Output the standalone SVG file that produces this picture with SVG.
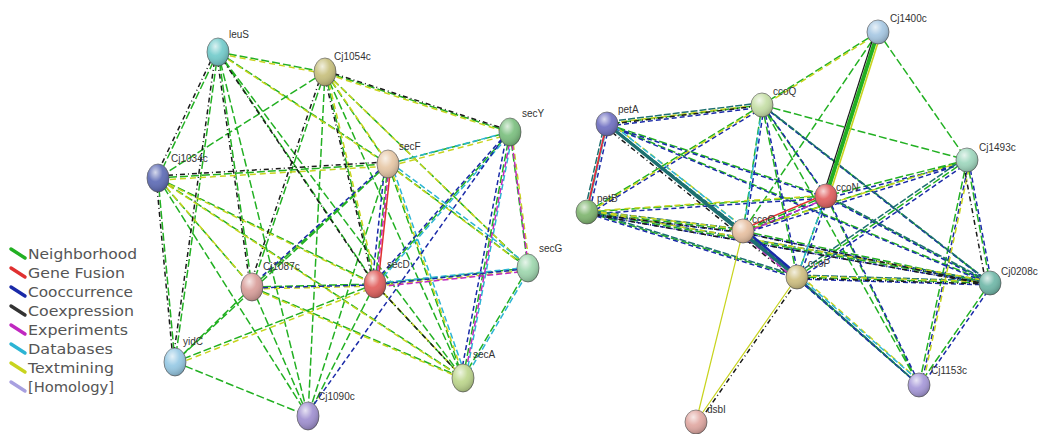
<svg xmlns="http://www.w3.org/2000/svg" xmlns:xlink="http://www.w3.org/1999/xlink" width="1047" height="434" viewBox="0 0 1047 434">
<style>
.e{fill:none;stroke-width:1.5}
.g{stroke:#22b022;stroke-dasharray:8 3}
.y{stroke:#c8d41e;stroke-dasharray:6 4}
.k{stroke:#1a1a1a;stroke-dasharray:5 3 1 3}
.b{stroke:#1a2aa8;stroke-dasharray:5 3}
.c{stroke:#2cb4d4;stroke-dasharray:6 3}
.m{stroke:#c028c0;stroke-dasharray:6 3}
.r{stroke:#e03030}
.t{stroke:#1d7070;stroke-dasharray:7 2}
.n ellipse.base{stroke:#555;stroke-width:0.7}
.lbl{font-family:"Liberation Sans",Arial,sans-serif;font-size:10px;fill:#333}
.leg{font-family:"DejaVu Sans",sans-serif;font-size:14px;fill:#555}
.legl{stroke-width:3.4;stroke-linecap:round}
</style>
<defs>
<radialGradient id="shade" cx="0.38" cy="0.3" r="0.75">
<stop offset="0" stop-color="#fff" stop-opacity="0.75"/>
<stop offset="0.45" stop-color="#fff" stop-opacity="0.1"/>
<stop offset="1" stop-color="#000" stop-opacity="0.25"/>
</radialGradient>
</defs>
<rect width="1047" height="434" fill="#fff"/>
<g id="connectors">
<path class="e g" d="M218 52L325 72M218 52L158 178M218 52L388 164M218 52L375 284M218 52L252 287M218 52L175 362M218 52L463 378M218 52L308 416M325 72L510 132M325 72L388 164M325 72L375 284M325 72L158 178M325 72L252 287M325 72L463 378M325 72L308 416M325 72L528 268M158 178L388 164M158 178L375 284M158 178L252 287M158 178L175 362M158 178L463 378M158 178L308 416M388 164L510 132M388 164L375 284M388 164L528 268M388 164L463 378M388 164L252 287M388 164L308 416M388 164L175 362M510 132L375 284M510 132L528 268M510 132L463 378M252 287L375 284M252 287L175 362M252 287L308 416M252 287L463 378M375 284L528 268M375 284L463 378M375 284L175 362M375 284L308 416M528 268L463 378M175 362L308 416"/>
<path class="e y" transform="translate(2,2)" d="M218 52L325 72M218 52L388 164M325 72L510 132M325 72L388 164M325 72L375 284M158 178L388 164M158 178L252 287M158 178L463 378M388 164L510 132M388 164L463 378M388 164L528 268M252 287L463 378M252 287L375 284M375 284L528 268M510 132L528 268M175 362L375 284M375 284L463 378M325 72L528 268M158 178L375 284"/>
<path class="e k" transform="translate(-2,-2)" d="M218 52L375 284M218 52L158 178M325 72L510 132M158 178L388 164M325 72L375 284M218 52L252 287M375 284L463 378M325 72L252 287M218 52L175 362M158 178L175 362"/>
<path class="e c" transform="translate(3,-1)" d="M510 132L388 164M510 132L375 284M388 164L528 268M375 284L528 268M388 164L463 378M510 132L463 378M528 268L463 378"/>
<path class="e b" transform="translate(-3,1)" d="M375 284L252 287M388 164L252 287M510 132L463 378M510 132L375 284M308 416L510 132M388 164L375 284M528 268L375 284"/>
<path class="e m" transform="translate(1,3)" d="M510 132L463 378M528 268L375 284M388 164L375 284M510 132L528 268"/>
<path class="e r" transform="translate(3,0)" d="M388 164L375 284"/>
<path class="e g" d="M762 105L607 124M762 105L967 160M762 105L826 196M762 105L587 212M762 105L743 231M762 105L797 277M762 105L990 283M762 105L919 385M607 124L826 196M607 124L587 212M607 124L743 231M607 124L797 277M607 124L990 283M967 160L826 196M967 160L743 231M967 160L797 277M967 160L990 283M967 160L919 385M826 196L587 212M826 196L743 231M826 196L797 277M826 196L990 283M826 196L919 385M587 212L743 231M587 212L797 277M587 212L990 283M743 231L797 277M743 231L990 283M743 231L919 385M797 277L990 283M797 277L919 385M990 283L919 385M878 32L762 105M878 32L967 160M878 32L743 231"/>
<path class="e b" transform="translate(2,2)" d="M762 105L607 124M762 105L826 196M762 105L587 212M762 105L743 231M762 105L797 277M762 105L990 283M607 124L826 196M607 124L587 212M607 124L743 231M607 124L797 277M607 124L990 283M967 160L826 196M967 160L743 231M967 160L797 277M967 160L990 283M967 160L919 385M826 196L587 212M826 196L743 231M826 196L797 277M826 196L990 283M826 196L919 385M587 212L743 231M587 212L797 277M587 212L990 283M743 231L797 277M743 231L990 283M743 231L919 385M797 277L990 283M797 277L919 385M990 283L919 385"/>
<path class="e t" transform="translate(-2,-2)" d="M762 105L607 124M607 124L797 277M607 124L743 231M607 124L587 212M587 212L743 231M587 212L797 277M587 212L990 283M743 231L797 277M797 277L990 283M797 277L919 385M826 196L990 283M762 105L990 283M967 160L797 277"/>
<path class="e y" transform="translate(4,-1)" d="M762 105L607 124M607 124L743 231M587 212L743 231M587 212L990 283M797 277L990 283M797 277L919 385M967 160L743 231M967 160L919 385M826 196L587 212M762 105L587 212M878 32L762 105"/>
<path class="e k" transform="translate(-4,1)" d="M762 105L607 124M587 212L743 231M587 212L990 283M607 124L797 277M797 277L990 283M743 231L990 283M967 160L990 283"/>
<path class="e c" transform="translate(1,-3)" d="M607 124L587 212M607 124L743 231M762 105L743 231M826 196L797 277M743 231L919 385"/>
<path class="e m" transform="translate(-1,3)" d="M607 124L587 212M826 196L743 231M743 231L797 277"/>
<path class="e r" transform="translate(0,-2)" d="M826 196L743 231M607 124L587 212"/>
<path fill="none" stroke="#1d7070" stroke-width="3.2" d="M607 124L797 277"/>
<path fill="none" stroke="#1a2aa8" stroke-width="2.5" transform="translate(2,-1)" d="M743 231L797 277"/>
<path fill="none" stroke="#22b022" stroke-width="4" d="M878 32L826 196"/>
<path fill="none" stroke="#c8d41e" stroke-width="1.6" transform="translate(3,1)" d="M878 32L826 196"/>
<path fill="none" stroke="#1a1a1a" stroke-width="1.2" transform="translate(-3,0)" d="M878 32L826 196"/>
<path fill="none" stroke="#c8d41e" stroke-width="1.2" d="M696 422L797 277M696 422L743 231"/>
<path class="e k" stroke-width="1" transform="translate(3,0)" d="M696 422L797 277"/>
</g>
<g id="n-leuS" class="n"><ellipse class="base" cx="218" cy="52" rx="11" ry="14" fill="#6fcaca"/><ellipse cx="218" cy="52" rx="11" ry="14" fill="url(#shade)"/><text class="lbl" x="229" y="38">leuS</text></g>
<g id="n-Cj1054c" class="n"><ellipse class="base" cx="325" cy="72" rx="11" ry="14" fill="#c6be7a"/><ellipse cx="325" cy="72" rx="11" ry="14" fill="url(#shade)"/><text class="lbl" x="334" y="60">Cj1054c</text></g>
<g id="n-Cj1034c" class="n"><ellipse class="base" cx="158" cy="178" rx="11" ry="14" fill="#5a68b4"/><ellipse cx="158" cy="178" rx="11" ry="14" fill="url(#shade)"/><text class="lbl" x="171" y="162">Cj1034c</text></g>
<g id="n-secF" class="n"><ellipse class="base" cx="388" cy="164" rx="11" ry="14" fill="#e6c6a4"/><ellipse cx="388" cy="164" rx="11" ry="14" fill="url(#shade)"/><text class="lbl" x="399" y="150">secF</text></g>
<g id="n-secY" class="n"><ellipse class="base" cx="510" cy="132" rx="11" ry="14" fill="#78be7c"/><ellipse cx="510" cy="132" rx="11" ry="14" fill="url(#shade)"/><text class="lbl" x="522" y="117">secY</text></g>
<g id="n-Cj1087c" class="n"><ellipse class="base" cx="252" cy="287" rx="11" ry="14" fill="#d89c98"/><ellipse cx="252" cy="287" rx="11" ry="14" fill="url(#shade)"/><text class="lbl" x="263" y="270">Cj1087c</text></g>
<g id="n-secD" class="n"><ellipse class="base" cx="375" cy="284" rx="11" ry="14" fill="#e05a58"/><ellipse cx="375" cy="284" rx="11" ry="14" fill="url(#shade)"/><text class="lbl" x="387" y="268">secD</text></g>
<g id="n-secG" class="n"><ellipse class="base" cx="528" cy="268" rx="11" ry="14" fill="#9cd6ac"/><ellipse cx="528" cy="268" rx="11" ry="14" fill="url(#shade)"/><text class="lbl" x="539" y="252">secG</text></g>
<g id="n-yidC" class="n"><ellipse class="base" cx="175" cy="362" rx="11" ry="14" fill="#94c8e4"/><ellipse cx="175" cy="362" rx="11" ry="14" fill="url(#shade)"/><text class="lbl" x="183" y="345">yidC</text></g>
<g id="n-secA" class="n"><ellipse class="base" cx="463" cy="378" rx="11" ry="14" fill="#bcd68a"/><ellipse cx="463" cy="378" rx="11" ry="14" fill="url(#shade)"/><text class="lbl" x="473" y="358">secA</text></g>
<g id="n-Cj1090c" class="n"><ellipse class="base" cx="308" cy="416" rx="11" ry="14" fill="#9e8ed0"/><ellipse cx="308" cy="416" rx="11" ry="14" fill="url(#shade)"/><text class="lbl" x="318" y="400">Cj1090c</text></g>
<g id="n-Cj1400c" class="n"><ellipse class="base" cx="878" cy="32" rx="11" ry="12" fill="#a4c6e2"/><ellipse cx="878" cy="32" rx="11" ry="12" fill="url(#shade)"/><text class="lbl" x="890" y="22">Cj1400c</text></g>
<g id="n-ccoQ" class="n"><ellipse class="base" cx="762" cy="105" rx="11" ry="12" fill="#c4dea4"/><ellipse cx="762" cy="105" rx="11" ry="12" fill="url(#shade)"/><text class="lbl" x="773" y="95">ccoQ</text></g>
<g id="n-petA" class="n"><ellipse class="base" cx="607" cy="124" rx="11" ry="12" fill="#6c6cc0"/><ellipse cx="607" cy="124" rx="11" ry="12" fill="url(#shade)"/><text class="lbl" x="618" y="113">petA</text></g>
<g id="n-Cj1493c" class="n"><ellipse class="base" cx="967" cy="160" rx="11" ry="12" fill="#9cd6bc"/><ellipse cx="967" cy="160" rx="11" ry="12" fill="url(#shade)"/><text class="lbl" x="979" y="151">Cj1493c</text></g>
<g id="n-ccoN" class="n"><ellipse class="base" cx="826" cy="196" rx="11" ry="12" fill="#e05a5a"/><ellipse cx="826" cy="196" rx="11" ry="12" fill="url(#shade)"/><text class="lbl" x="836" y="191">ccoN</text></g>
<g id="n-petB" class="n"><ellipse class="base" cx="587" cy="212" rx="11" ry="12" fill="#7cb46c"/><ellipse cx="587" cy="212" rx="11" ry="12" fill="url(#shade)"/><text class="lbl" x="597" y="202">petB</text></g>
<g id="n-ccoO" class="n"><ellipse class="base" cx="743" cy="231" rx="11" ry="12" fill="#e6be9e"/><ellipse cx="743" cy="231" rx="11" ry="12" fill="url(#shade)"/><text class="lbl" x="752" y="223">ccoO</text></g>
<g id="n-ccoP" class="n"><ellipse class="base" cx="797" cy="277" rx="11" ry="12" fill="#cebe7e"/><ellipse cx="797" cy="277" rx="11" ry="12" fill="url(#shade)"/><text class="lbl" x="808" y="267">ccoP</text></g>
<g id="n-Cj0208c" class="n"><ellipse class="base" cx="990" cy="283" rx="11" ry="12" fill="#6cb6a6"/><ellipse cx="990" cy="283" rx="11" ry="12" fill="url(#shade)"/><text class="lbl" x="1001" y="275">Cj0208c</text></g>
<g id="n-Cj1153c" class="n"><ellipse class="base" cx="919" cy="385" rx="11" ry="12" fill="#a496d8"/><ellipse cx="919" cy="385" rx="11" ry="12" fill="url(#shade)"/><text class="lbl" x="931" y="374">Cj1153c</text></g>
<g id="n-dsbI" class="n"><ellipse class="base" cx="696" cy="422" rx="11" ry="12" fill="#e0a6a0"/><ellipse cx="696" cy="422" rx="11" ry="12" fill="url(#shade)"/><text class="lbl" x="707" y="413">dsbI</text></g>
<g id="legend">
<path class="legl" stroke="#22b022" d="M11 249L25 258"/><text class="leg" x="28" y="259" textLength="109" lengthAdjust="spacingAndGlyphs">Neighborhood</text>
<path class="legl" stroke="#e03030" d="M11 268L25 277"/><text class="leg" x="28" y="278" textLength="97" lengthAdjust="spacingAndGlyphs">Gene Fusion</text>
<path class="legl" stroke="#1a2aa8" d="M11 287L25 296"/><text class="leg" x="28" y="297" textLength="105" lengthAdjust="spacingAndGlyphs">Cooccurrence</text>
<path class="legl" stroke="#333" d="M11 306L25 315"/><text class="leg" x="28" y="316" textLength="106" lengthAdjust="spacingAndGlyphs">Coexpression</text>
<path class="legl" stroke="#c028c0" d="M11 325L25 334"/><text class="leg" x="28" y="335" textLength="100" lengthAdjust="spacingAndGlyphs">Experiments</text>
<path class="legl" stroke="#2cb4d4" d="M11 344L25 353"/><text class="leg" x="28" y="354" textLength="85" lengthAdjust="spacingAndGlyphs">Databases</text>
<path class="legl" stroke="#c8d41e" d="M11 363L25 372"/><text class="leg" x="28" y="373" textLength="86" lengthAdjust="spacingAndGlyphs">Textmining</text>
<path class="legl" stroke="#a8a0e0" d="M11 382L25 391"/><text class="leg" x="28" y="392" textLength="86" lengthAdjust="spacingAndGlyphs">[Homology]</text>
</g>
</svg>
